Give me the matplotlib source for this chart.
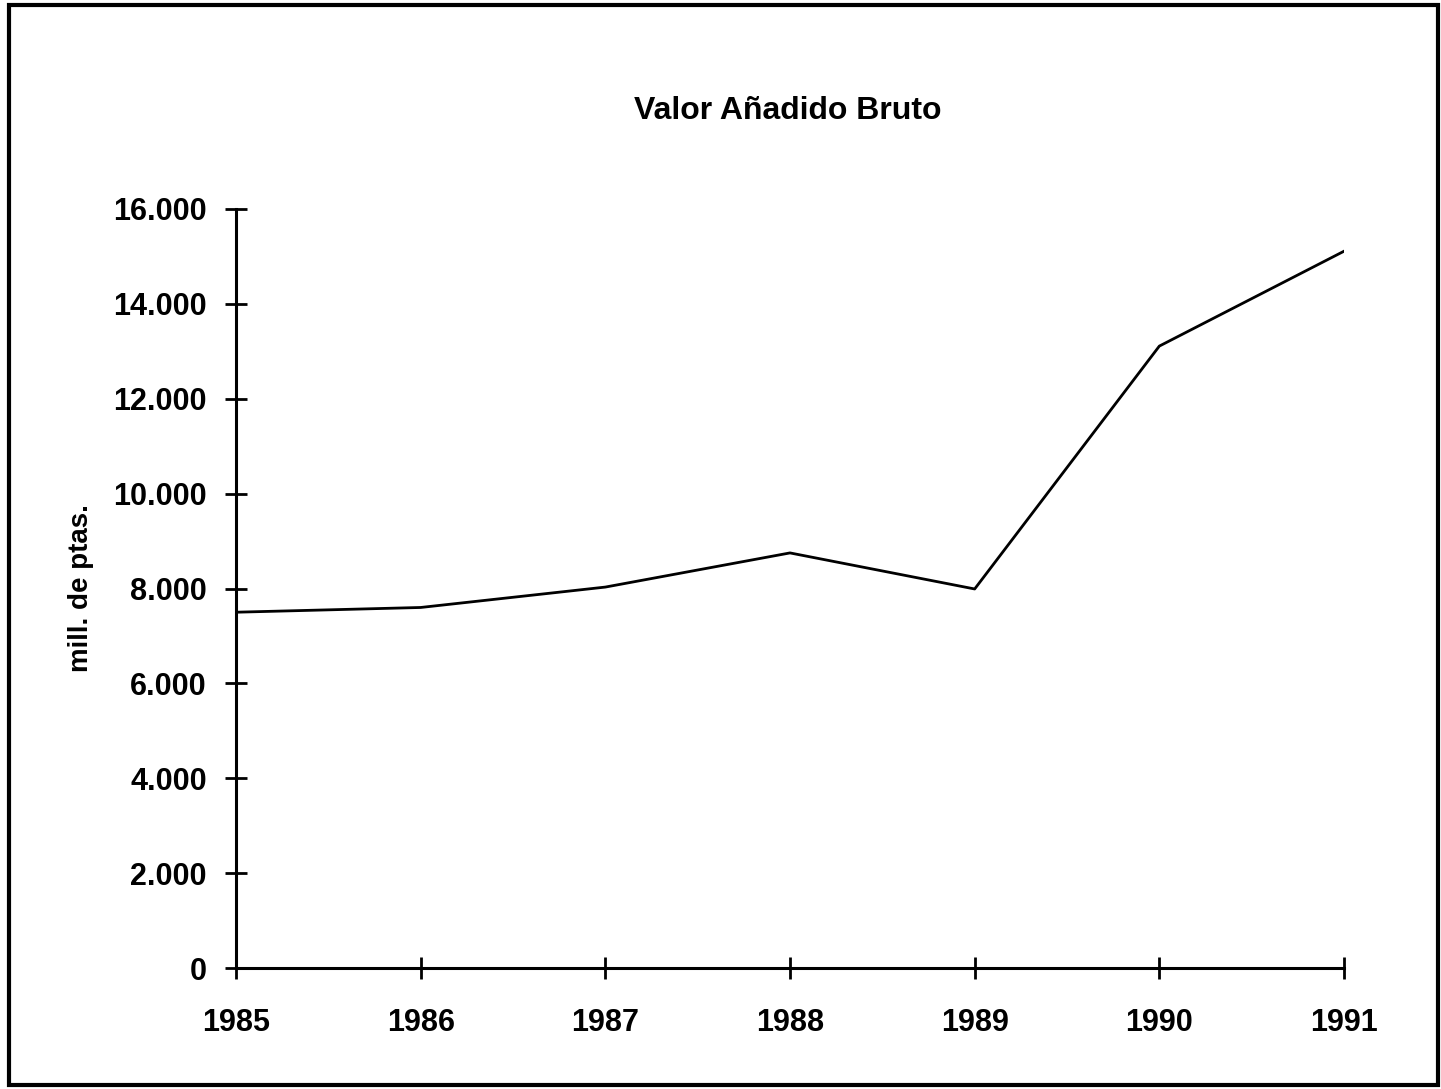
import matplotlib
matplotlib.use("Agg")
import matplotlib.pyplot as plt
from matplotlib.ticker import FuncFormatter
from matplotlib.patches import Rectangle

years = [1985, 1986, 1987, 1988, 1989, 1990, 1991]
valor = [7500, 7600, 8030, 8750, 7990, 13110, 15110]
yticks = [0, 2000, 4000, 6000, 8000, 10000, 12000, 14000, 16000]

plt.rcParams['font.family'] = ['Liberation Sans', 'DejaVu Sans']
plt.rcParams['font.weight'] = 'bold'

W, H = 1441, 1089
fig = plt.figure(figsize=(W / 100, H / 100), dpi=100)
ax = fig.add_axes([236 / W, 1 - 968 / H, (1344 - 236) / W, (968 - 209) / H])

ax.plot(years, valor, color='black', lw=2.0)
ax.set_xlim(1985, 1991)
ax.set_ylim(0, 16000)
ax.set_xticks(years)
ax.set_yticks(yticks)
ax.yaxis.set_major_formatter(FuncFormatter(lambda v, p: f"{int(v):,}".replace(",", ".")))

for s in ['top', 'right']:
    ax.spines[s].set_visible(False)
for s in ['left', 'bottom']:
    ax.spines[s].set_linewidth(2.2)

ax.tick_params(axis='both', direction='inout', length=16, width=2, labelsize=22, colors='black')
ax.tick_params(axis='y', pad=13)
ax.tick_params(axis='x', pad=21)
for lab in ax.get_xticklabels() + ax.get_yticklabels():
    lab.set_fontweight('bold')

ax.set_ylabel('mill. de ptas.', fontsize=20, fontweight='bold')
ax.yaxis.set_label_coords(-0.128, 0.5)

fig.text((633 + 943) / 2 / W, 1 - 111 / H, 'Valor Añadido Bruto', ha='center', va='center',
         fontsize=23, fontweight='bold')

fig.patches.append(Rectangle((9 / W, 1 - 1085 / H), (1438 - 9) / W, (1085 - 5) / H,
                             transform=fig.transFigure, fill=False, lw=3, edgecolor='black'))

fig.savefig('out.png', dpi=100)
